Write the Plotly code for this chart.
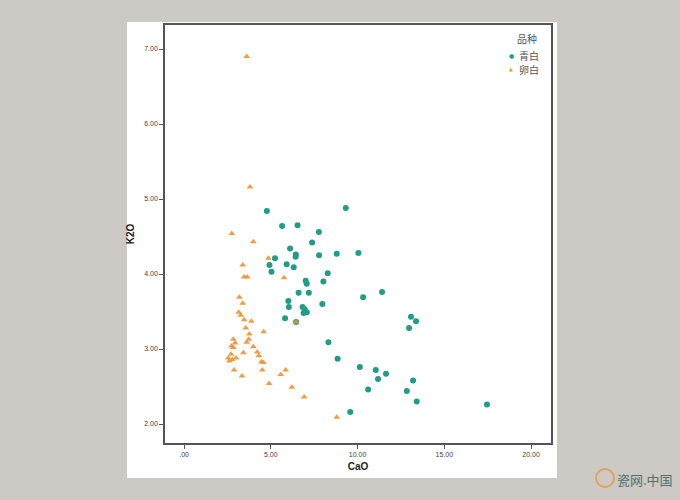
import plotly.graph_objects as go

# Data
qingbai_cao = [4.77, 9.32, 5.65, 6.54, 7.77, 7.38, 6.11, 6.44, 6.43, 7.78, 8.80, 10.05,
               5.24, 4.92, 5.91, 6.32, 5.04, 8.28, 7.01, 7.07, 8.03, 6.60, 7.19, 11.41,
               10.32, 6.01, 6.04, 6.83, 6.95, 6.89, 7.07, 7.97, 5.82, 13.08, 13.37, 12.97,
               8.32, 8.85, 10.13, 11.05, 11.64, 11.18, 13.20, 10.61, 12.84, 13.41, 17.46,
               9.58, 6.46]
qingbai_k2o = [4.84, 4.88, 4.64, 4.65, 4.56, 4.42, 4.34, 4.26, 4.23, 4.25, 4.27, 4.28,
               4.21, 4.12, 4.13, 4.09, 4.03, 4.01, 3.91, 3.87, 3.90, 3.75, 3.75, 3.76,
               3.69, 3.64, 3.56, 3.56, 3.53, 3.48, 3.49, 3.60, 3.41, 3.43, 3.37, 3.28,
               3.09, 2.87, 2.76, 2.72, 2.67, 2.60, 2.58, 2.46, 2.44, 2.30, 2.26,
               2.16, 3.36]

luanbai_cao = [3.61, 3.80, 2.75, 3.99, 4.86, 3.38, 3.46, 3.65, 5.76, 3.19, 3.38, 3.15,
               3.27, 3.46, 3.88, 3.56, 4.59, 3.76, 2.84, 3.73, 3.61, 2.94, 2.73, 2.84,
               3.99, 4.22, 3.42, 2.71, 2.55, 2.78, 3.00, 4.31, 4.46, 4.57, 2.61, 2.88,
               4.51, 5.86, 3.34, 5.57, 4.90, 6.21, 6.92, 8.80, 6.46]
luanbai_k2o = [6.90, 5.16, 4.54, 4.43, 4.21, 4.12, 3.96, 3.96, 3.95, 3.69, 3.61, 3.49,
               3.45, 3.39, 3.37, 3.28, 3.23, 3.20, 3.13, 3.13, 3.09, 3.08, 3.04, 3.02,
               3.03, 2.96, 2.95, 2.93, 2.88, 2.86, 2.88, 2.91, 2.83, 2.82, 2.84, 2.72,
               2.72, 2.72, 2.64, 2.66, 2.54, 2.49, 2.36, 2.09, 3.36]

x_tickvals = [0, 5, 10, 15, 20]
x_ticktext = [".00", "5.00", "10.00", "15.00", "20.00"]
y_tickvals = [2, 3, 4, 5, 6, 7]
y_ticktext = ["2.00", "3.00", "4.00", "5.00", "6.00", "7.00"]

legend_title = "品种"
series_names = ["青白", "卵白"]

GREEN = "#1f9d86"
ORANGE = "#ec9433"
FONT = "Liberation Sans, Arial, sans-serif"
CJK = "Noto Sans CJK SC, sans-serif"

# plot area in pixels
L, R, T, B = 165, 551, 25, 443
PW, PH = R - L, B - T


def px(xp):
    return (xp - L) / PW


def py(yp):
    return (B - yp) / PH


fig = go.Figure()
fig.add_trace(go.Scatter(
    x=qingbai_cao, y=qingbai_k2o, mode="markers", name=series_names[0],
    marker=dict(symbol="circle", size=6, color=GREEN, line=dict(width=0)),
))
fig.add_trace(go.Scatter(
    x=luanbai_cao, y=luanbai_k2o, mode="markers", name=series_names[1],
    marker=dict(symbol="triangle-up", size=6, color=ORANGE, opacity=0.9, line=dict(width=0)),
))

axis_common = dict(
    showgrid=False, zeroline=False, showline=True, linecolor="#555555", linewidth=1.5,
    mirror=True, ticks="outside", ticklen=4, tickwidth=1, tickcolor="#555555",
    tickfont=dict(family=FONT, size=7, color="#444444"),
)

annotations = [
    dict(text=legend_title, xref="paper", yref="paper", x=px(527), y=py(39),
         xanchor="center", yanchor="middle", showarrow=False,
         font=dict(family=CJK, size=10, color="#555555")),
    dict(text="●", xref="paper", yref="paper", x=px(511), y=py(55),
         xanchor="center", yanchor="middle", showarrow=False,
         font=dict(family="DejaVu Sans", size=6, color=GREEN)),
    dict(text=series_names[0], xref="paper", yref="paper", x=px(517), y=py(55),
         xanchor="left", yanchor="middle", showarrow=False,
         font=dict(family=CJK, size=10, color="#555555")),
    dict(text="▲", xref="paper", yref="paper", x=px(511), y=py(69),
         xanchor="center", yanchor="middle", showarrow=False,
         font=dict(family="DejaVu Sans", size=5, color=ORANGE)),
    dict(text=series_names[1], xref="paper", yref="paper", x=px(517), y=py(69),
         xanchor="left", yanchor="middle", showarrow=False,
         font=dict(family=CJK, size=10, color="#555555")),
    dict(text="瓷网.中国", xref="paper", yref="paper", x=px(645), y=py(479),
         xanchor="center", yanchor="middle", showarrow=False,
         font=dict(family=CJK, size=13, color="#4f6f70")),
]

fig.update_layout(
    width=680, height=500,
    margin=dict(l=L, r=680 - R, t=T, b=500 - B),
    paper_bgcolor="#cdcac5",
    plot_bgcolor="white",
    font=dict(family=FONT),
    showlegend=False,
    xaxis=dict(range=[-1.1, 21.15], tickvals=x_tickvals, ticktext=x_ticktext,
               title=dict(text="<b>CaO</b>", font=dict(family=FONT, size=10, color="#222222"),
                          standoff=6),
               **axis_common),
    yaxis=dict(range=[1.747, 7.32], tickvals=y_tickvals, ticktext=y_ticktext,
               title=dict(text="<b>K2O</b>", font=dict(family=FONT, size=10, color="#222222"),
                          standoff=8),
               **axis_common),
    shapes=[
        dict(type="rect", xref="paper", yref="paper",
             x0=px(127), x1=px(557), y0=py(478), y1=py(22),
             fillcolor="white", line=dict(width=0), layer="below"),
        dict(type="circle", xref="paper", yref="paper",
             x0=px(596), x1=px(614), y0=py(487), y1=py(469),
             line=dict(color="#e0a35a", width=2), fillcolor="rgba(0,0,0,0)"),
    ],
    annotations=annotations,
)

fig.write_html("out.html",
               config={"displayModeBar": False},
               post_script="document.body.style.margin='0';document.body.style.background='#cdcac5';")
